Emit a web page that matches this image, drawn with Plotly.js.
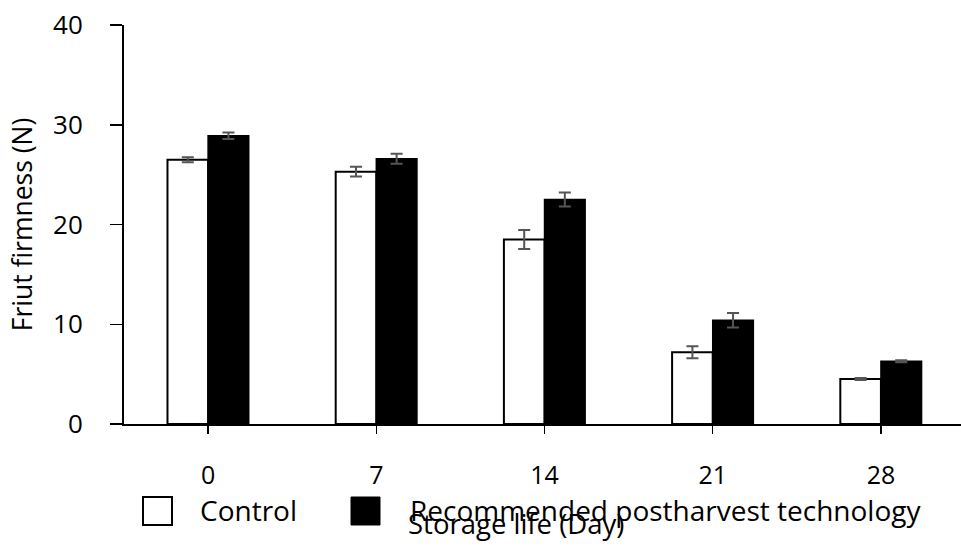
<!DOCTYPE html>
<html>
<head>
<meta charset="utf-8">
<script src="https://cdn.plot.ly/plotly-3.0.1.min.js"></script>
<style>html,body{margin:0;padding:0;background:#fff;}#chart{width:961px;height:548px;}</style>
</head>
<body>
<div id="chart"></div>
<script>
const days = ['0', '7', '14', '21', '28'];
const seriesNames = ['Control', 'Recommended postharvest technology'];
const controlValues = [26.5, 25.3, 18.5, 7.2, 4.5];
const controlErrors = [0.25, 0.5, 0.95, 0.6, 0.1];
const recommendedValues = [28.9, 26.6, 22.5, 10.4, 6.3];
const recommendedErrors = [0.33, 0.5, 0.7, 0.73, 0.1];
const xTitle = 'Storage life (Day)';
const yTitle = 'Friut firmness (N)';

const FONT = '"Open Sans", "Noto Sans", sans-serif';
const errStyle = {type: 'data', visible: true, color: '#555555', thickness: 2, width: 6};

const traces = [
  {type: 'bar', name: seriesNames[0], x: days, y: controlValues,
   marker: {color: '#ffffff', line: {color: '#000000', width: 2}},
   error_y: Object.assign({array: controlErrors}, errStyle)},
  {type: 'bar', name: seriesNames[1], x: days, y: recommendedValues,
   marker: {color: '#000000', line: {color: '#000000', width: 1.5}},
   error_y: Object.assign({array: recommendedErrors}, errStyle)}
];

// custom legend (large square swatches) + x-axis title, in paper coordinates
const pxToPaperX = px => (px - 124) / 837;
const pxToPaperY = py => (424 - py) / 399;
const legendShapes = [
  {type: 'rect', xref: 'paper', yref: 'paper', x0: pxToPaperX(143), x1: pxToPaperX(172), y0: pxToPaperY(525), y1: pxToPaperY(497),
   fillcolor: '#ffffff', line: {color: '#000000', width: 2}},
  {type: 'rect', xref: 'paper', yref: 'paper', x0: pxToPaperX(351), x1: pxToPaperX(380), y0: pxToPaperY(525), y1: pxToPaperY(497),
   fillcolor: '#000000', line: {color: '#000000', width: 1}}
];
const annotations = [
  {xref: 'paper', yref: 'paper', x: pxToPaperX(198), y: pxToPaperY(510), xanchor: 'left', yanchor: 'middle',
   text: seriesNames[0], showarrow: false, font: {family: FONT, size: 28, color: '#000'}},
  {xref: 'paper', yref: 'paper', x: pxToPaperX(408), y: pxToPaperY(510), xanchor: 'left', yanchor: 'middle',
   text: seriesNames[1], showarrow: false, font: {family: FONT, size: 28, color: '#000'}},
  {xref: 'paper', yref: 'paper', x: pxToPaperX(516), y: pxToPaperY(523), xanchor: 'center', yanchor: 'middle',
   text: xTitle, showarrow: false, font: {family: FONT, size: 27.5, color: '#000'}}
];

const layout = {
  width: 961, height: 548,
  margin: {l: 124, r: 0, t: 25, b: 124},
  paper_bgcolor: '#ffffff', plot_bgcolor: '#ffffff',
  font: {family: FONT, size: 25, color: '#000'},
  showlegend: false,
  barmode: 'group', bargap: 0.517, bargroupgap: 0,
  xaxis: {
    type: 'category', range: [-0.5, 4.476],
    showline: true, linecolor: '#000', linewidth: 2,
    ticks: 'outside', ticklen: 8, tickwidth: 1.5, tickcolor: '#000',
    ticklabelstandoff: 20,
    showgrid: false, zeroline: false,
    tickfont: {family: FONT, size: 25, color: '#000'}
  },
  yaxis: {
    range: [0, 40], dtick: 10, tick0: 0,
    showline: true, linecolor: '#000', linewidth: 2,
    ticks: 'outside', ticklen: 12, tickwidth: 1.5, tickcolor: '#000',
    ticklabelstandoff: 22,
    showgrid: false, zeroline: false,
    tickfont: {family: FONT, size: 26, color: '#000'},
    title: {text: yTitle, font: {family: FONT, size: 26.5, color: '#000'}, standoff: 13}
  },
  shapes: legendShapes,
  annotations: annotations
};

Plotly.newPlot('chart', traces, layout, {displayModeBar: false, staticPlot: true});
</script>
</body>
</html>
